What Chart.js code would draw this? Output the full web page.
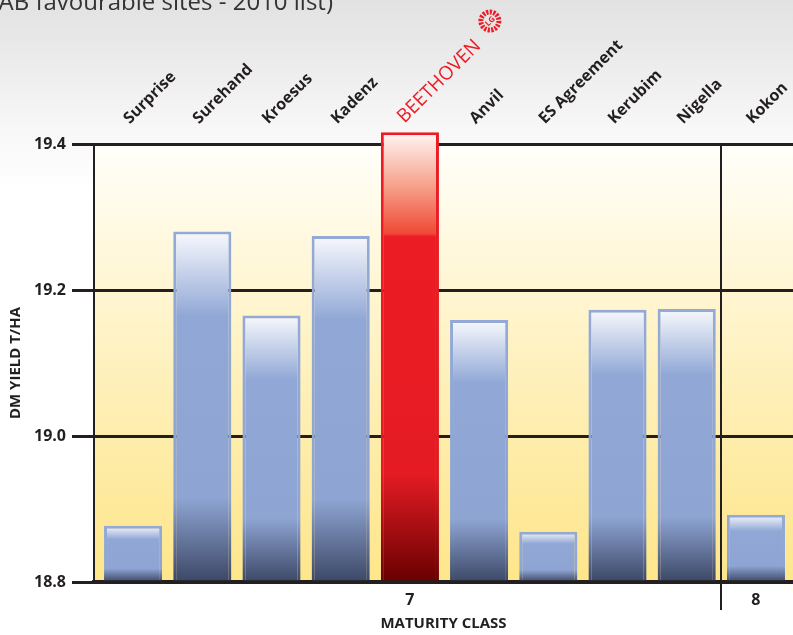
<!DOCTYPE html>
<html>
<head>
<meta charset="utf-8">
<script src="https://cdn.jsdelivr.net/npm/chart.js@4.4.0/dist/chart.umd.min.js"></script>
<style>
html,body{margin:0;padding:0;background:#fff;}
#wrap{width:793px;height:635px;}
</style>
</head>
<body>
<div id="wrap"><canvas id="chart" width="793" height="635"></canvas></div>
<script>
// values
const varieties = ["Surprise","Surehand","Kroesus","Kadenz","BEETHOVEN","Anvil","ES Agreement","Kerubim","Nigella","Kokon"];
const yields = [18.877, 19.28, 19.165, 19.274, 19.416, 19.159, 18.869, 19.173, 19.174, 18.892];
const maturity = [7,7,7,7,7,7,7,7,7,8];
const yTicks = [18.8, 19.0, 19.2, 19.4];
const highlight = "BEETHOVEN";
const heading = "(NIAB favourable sites - 2010 list)";

const FONT = '"Open Sans", "Noto Sans", sans-serif';
const INK = "#231f20";
const RED = "#ed1c24";

// group consecutive varieties by maturity class
const groups = [];
maturity.forEach((m,i)=>{
  const g = groups[groups.length-1];
  if(g && g.cls === m) g.last = i; else groups.push({cls:m, first:i, last:i});
});
const groupCentres = groups.map(g=>(g.first + g.last)/2);
const dividers = groups.slice(1).map(g=>g.first - 0.5);

const X_MIN = -0.565, X_MAX = 9.536;

function barRange(c){
  const chart = c.chart;
  const y = chart.scales.y;
  if(!chart.chartArea || !y || c.dataIndex === undefined) return null;
  return {top: y.getPixelForValue(yields[c.dataIndex]), bot: y.getPixelForValue(yTicks[0])};
}

function fillFor(c){
  const r = barRange(c);
  if(!r) return "#91a8d6";
  const g = c.chart.ctx.createLinearGradient(0, r.top, 0, r.bot);
  if(varieties[c.dataIndex] === highlight){
    g.addColorStop(0, "#fff6f4");
    g.addColorStop(0.12, "#f6a08a");
    g.addColorStop(0.225, "#ef4a35");
    g.addColorStop(0.232, RED);
    g.addColorStop(0.76, "#e41b23");
    g.addColorStop(1, "#680000");
  } else {
    g.addColorStop(0, "#f8f9fd");
    g.addColorStop(0.24, "#91a8d6");
    g.addColorStop(0.76, "#8ea5d3");
    g.addColorStop(1, "#3c4766");
  }
  return g;
}

function borderFor(c){
  const r = barRange(c);
  if(!r) return "#93aad8";
  const g = c.chart.ctx.createLinearGradient(0, r.top, 0, r.bot);
  if(varieties[c.dataIndex] === highlight){
    g.addColorStop(0, RED); g.addColorStop(0.76, "#e41b23"); g.addColorStop(1, "#680000");
  } else {
    g.addColorStop(0, "#93aad8"); g.addColorStop(0.76, "#8ea5d3"); g.addColorStop(1, "#3c4766");
  }
  return g;
}

const backdrop = {
  id: "backdrop",
  beforeDraw(chart){
    const {ctx, chartArea:a, width, height} = chart;
    ctx.save();
    let g = ctx.createLinearGradient(0, 0, 0, height);
    g.addColorStop(0, "#e2e2e2");
    g.addColorStop(0.1, "#ececec");
    g.addColorStop(0.2, "#f7f7f7");
    g.addColorStop(0.3, "#ffffff");
    g.addColorStop(1, "#ffffff");
    ctx.fillStyle = g;
    ctx.fillRect(0, 0, width, height);
    g = ctx.createLinearGradient(0, a.top, 0, a.bottom);
    g.addColorStop(0, "#fffffa");
    g.addColorStop(0.35, "#fff5d0");
    g.addColorStop(0.7, "#feeca8");
    g.addColorStop(1, "#fee68a");
    ctx.fillStyle = g;
    ctx.fillRect(a.left, a.top, a.right - a.left, a.bottom - a.top);
    // heading, cut off by the top edge as in the original
    ctx.font = "24px " + FONT;
    ctx.fillStyle = "#333";
    ctx.textAlign = "right";
    ctx.textBaseline = "alphabetic";
    ctx.fillText(heading, 333, 10);
    ctx.restore();
  },
  afterDraw(chart){
    // little LG rosette after the highlighted name
    const {ctx} = chart;
    const xs = chart.scales.x;
    const hi = varieties.indexOf(highlight);
    if(hi < 0) return;
    ctx.save();
    ctx.font = "19px " + FONT;
    const d = ctx.measureText(highlight).width * Math.SQRT1_2;
    const cx = xs.getPixelForValue(hi) + d + 3, cy = xs.bottom - 46 - d;
    ctx.strokeStyle = RED;
    ctx.lineWidth = 5;
    ctx.setLineDash([2.2, 1.3]);
    ctx.beginPath(); ctx.arc(cx, cy, 9, 0, Math.PI*2); ctx.stroke();
    ctx.setLineDash([]);
    ctx.translate(cx, cy); ctx.rotate(-Math.PI/4);
    ctx.fillStyle = RED;
    ctx.font = "bold 8px " + FONT;
    ctx.textAlign = "center"; ctx.textBaseline = "middle";
    ctx.fillText("LG", 0, 0.5);
    ctx.restore();
  }
};

new Chart(document.getElementById("chart"), {
  type: "bar",
  data: {
    datasets: [{
      data: yields.map((v,i)=>({x:i, y:v})),
      base: yTicks[0],
      backgroundColor: fillFor,
      borderColor: borderFor,
      borderWidth: 3,
      barPercentage: 0.84,
      categoryPercentage: 1,
      clip: false
    }]
  },
  options: {
    responsive: false,
    devicePixelRatio: 1,
    animation: false,
    layout: {padding: 0},
    plugins: {legend:{display:false}, tooltip:{enabled:false}},
    scales: {
      x: {
        type: "linear",
        position: "top",
        offset: false,
        min: X_MIN, max: X_MAX,
        afterBuildTicks: s => { s.ticks = varieties.map((_,i)=>({value:i})); },
        afterFit: s => { s.height = 144; s.paddingLeft = 0; s.paddingRight = 0; },
        grid: {display:false, offset:false},
        border: {display:false},
        ticks: {
          autoSkip: false,
          minRotation: 45, maxRotation: 45,
          padding: 8,
          labelOffset: 7,
          callback: (v,i) => varieties[i],
          color: c => varieties[c.index] === highlight ? RED : INK,
          font: c => varieties[c.index] === highlight
            ? {family: FONT, size: 19, weight: "normal"}
            : {family: FONT, size: 16, weight: "bold"}
        }
      },
      x2: {
        type: "linear",
        position: "bottom",
        offset: false,
        min: X_MIN, max: X_MAX,
        z: 1,
        afterBuildTicks: s => {
          s.ticks = groupCentres.concat(dividers).sort((a,b)=>a-b).map(v=>({value:v}));
        },
        afterFit: s => { s.height = 53; s.paddingLeft = 0; s.paddingRight = 0; },
        grid: {
          offset: false,
          drawOnChartArea: true,
          drawTicks: true,
          tickLength: 28,
          lineWidth: 2,
          color: c => (c.tick && dividers.includes(c.tick.value)) ? INK : "rgba(0,0,0,0)"
        },
        border: {display:true, color: INK, width: 4},
        ticks: {
          autoSkip: false,
          maxRotation: 0,
          padding: -19,
          color: INK,
          font: {family: FONT, size: 16, weight: "bold"},
          callback: v => { const k = groupCentres.indexOf(v); return k < 0 ? "" : String(groups[k].cls); }
        },
        title: {
          display: true,
          text: "MATURITY CLASS",
          color: INK,
          font: {family: FONT, size: 15, weight: "bold"},
          padding: {top:0, bottom:2}
        }
      },
      y: {
        min: yTicks[0], max: yTicks[yTicks.length-1],
        afterBuildTicks: s => { s.ticks = yTicks.map(v=>({value:v})); },
        afterFit: s => { s.width = 94; },
        grid: {color: INK, lineWidth: 3, tickLength: 22, drawTicks: true},
        border: {display:true, color: INK, width: 2},
        ticks: {
          padding: 6,
          color: INK,
          font: {family: FONT, size: 16, weight: "bold"},
          callback: v => Number(v).toFixed(1)
        },
        title: {
          display: true,
          text: "DM YIELD T/HA",
          color: INK,
          font: {family: FONT, size: 15, weight: "bold"},
          padding: {top:7, bottom:0}
        }
      }
    }
  },
  plugins: [backdrop]
});
</script>
</body>
</html>
